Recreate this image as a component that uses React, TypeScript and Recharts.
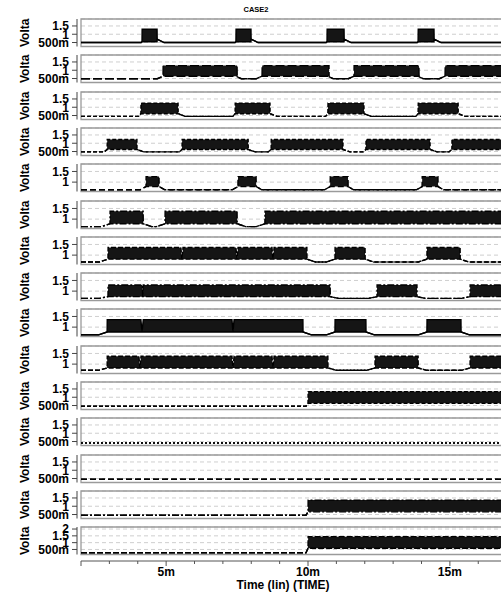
import React from "react";
import {
  ComposedChart,
  Area,
  XAxis,
  YAxis,
  CartesianGrid,
  ReferenceLine,
  ReferenceArea,
} from "recharts";

const FONT = "'Liberation Sans', Arial, Helvetica, sans-serif";

// time axis, in ms
const T_MIN = 2;
const T_MAX = 18;
const timeTicks = [2, 3, 4, 5, 6, 7, 8, 9, 10, 11, 12, 13, 14, 15, 16, 17];
const timeLabels = [5, 10, 15];

// voltage ticks per panel
const yTicksStd = [0.5, 1, 1.5];
const yTicksMid = [1, 1.5];
const yTicksWide = [0.5, 1, 1.5, 2];

const panelYTicks = [
  yTicksStd, yTicksStd, yTicksStd, yTicksStd,
  yTicksMid, yTicksMid, yTicksMid, yTicksMid, yTicksMid, yTicksMid,
  yTicksStd, yTicksStd, yTicksStd, yTicksStd,
  yTicksWide,
];
const panelYMin = [0.26, 0.26, 0.26, 0.26, 0.56, 0.56, 0.56, 0.56, 0.56, 0.56, 0.26, 0.26, 0.26, 0.26, 0.13];
const panelYMax = [1.92, 1.92, 1.92, 1.92, 1.85, 1.85, 1.85, 1.85, 1.85, 1.85, 1.92, 1.92, 1.92, 1.92, 2.15];

// bursts of switching activity, [start, end] in ms
const bursts1 = [[4.15, 4.68], [7.46, 7.99], [10.67, 11.27], [13.88, 14.44]];
const bursts2 = [[4.89, 7.5], [8.38, 10.74], [11.62, 13.91], [14.83, 18]];
const bursts3 = [[4.11, 5.42], [7.43, 8.66], [10.7, 11.97], [13.88, 15.29]];
const bursts4 = [[2.92, 3.97], [5.56, 7.89], [8.7, 11.23], [12.04, 14.3], [15.07, 18]];
const bursts5 = [[4.29, 4.75], [7.53, 8.17], [10.78, 11.41], [14.02, 14.58]];
const bursts6 = [[3.02, 4.19], [4.96, 7.5], [8.48, 18]];
const bursts7 = [[2.95, 5.52], [5.59, 7.46], [7.53, 8.73], [8.8, 9.96], [10.95, 12.01], [14.19, 15.36]];
const bursts8 = [[2.95, 4.16], [4.19, 10.78], [12.43, 13.84], [15.71, 18]];
const bursts9 = [[2.92, 4.11], [4.19, 7.32], [7.39, 9.82], [10.95, 12.04], [14.19, 15.39]];
const bursts10 = [[2.92, 4.04], [4.11, 7.32], [7.39, 8.73], [8.8, 10.7], [12.36, 13.88], [15.71, 18]];
const bursts11 = [[10.0, 18]];
const bursts12: number[][] = [];
const bursts13: number[][] = [];
const bursts14 = [[10.0, 18]];
const bursts15 = [[10.0, 18]];

const panelBursts = [
  bursts1, bursts2, bursts3, bursts4, bursts5, bursts6, bursts7, bursts8,
  bursts9, bursts10, bursts11, bursts12, bursts13, bursts14, bursts15,
];

// levels in V
const lowLevel = [0.5, 0.49, 0.45, 0.48, 0.64, 0.65, 0.68, 0.66, 0.64, 0.71, 0.46, 0.41, 0.46, 0.46, 0.26];
const burstLow = [0.55, 0.64, 0.61, 0.62, 0.79, 0.78, 0.81, 0.74, 0.77, 0.82, 0.63, 0.41, 0.46, 0.66, 0.59];
const burstHigh = [1.3, 1.28, 1.25, 1.23, 1.26, 1.37, 1.36, 1.29, 1.35, 1.37, 1.34, 0.41, 0.46, 1.37, 1.44];
const tailLevel = [0.7, 0.6, 0.61, 0.62, 0.79, 0.78, 0.81, 0.74, 0.77, 0.82, 0.63, 0.41, 0.46, 0.66, 0.59];
// edge durations in ms
const riseMs = [0.03, 0.2, 0.08, 0.1, 0.2, 0.3, 0.3, 0.3, 0.3, 0.3, 0.07, 0.07, 0.07, 0.07, 0.07];
const fallMs = [0.25, 0.15, 0.25, 0.25, 0.2, 0.3, 0.3, 0.3, 0.3, 0.3, 0.07, 0.07, 0.07, 0.07, 0.07];

const lineDash = [
  undefined, "9 3", "4 2", "4 2", "6 3", "7 2 2 2", "5 2", "7 2 2 2",
  undefined, "5 2", "4 2", "2 2", "6 3", "7 2 2 2", "6 2",
];

// layout
const PX_PER_MS = 28.375;
const AXIS_X = 77;
const PLOT_LEFT = 81;
const CHART_W = PLOT_LEFT + (T_MAX - T_MIN) * PX_PER_MS;
const T_LEFT = T_MIN - (PLOT_LEFT - AXIS_X) / PX_PER_MS;
const PANEL_TOP0 = 19;
const PANEL_PITCH = 36.3;
const PLOT_H = 27.5;
const PAD = 4;
const AXIS_CHART_TOP = 17;
const AXIS_LINE_Y = 561;

type Pt = { t: number; v: [number, number] };

function buildSeries(i: number): Pt[] {
  const lo = lowLevel[i];
  const bl = burstLow[i];
  const bh = burstHigh[i];
  const tail = tailLevel[i];
  const rise = riseMs[i];
  const fall = fallMs[i];
  const bs = panelBursts[i];
  const pts: Pt[] = [{ t: T_MIN, v: [lo, lo] }];
  bs.forEach(([a, b], k) => {
    const prev = k > 0 ? bs[k - 1][1] : null;
    const notch = prev !== null && a - prev < rise + fall;
    if (!notch) {
      pts.push({ t: a - rise, v: [lo, lo] });
      pts.push({ t: a, v: [bl, bl] });
    }
    pts.push({ t: a + 0.005, v: [bl, bh] });
    pts.push({ t: b, v: [bl, bh] });
    const next = bs[k + 1];
    if (next && next[0] - b < rise + fall) {
      pts.push({ t: (b + next[0]) / 2, v: [bl, bl] });
    } else if (b < T_MAX) {
      pts.push({ t: b + 0.005, v: [tail, tail] });
      pts.push({ t: b + fall, v: [lo, lo] });
    }
  });
  if (pts[pts.length - 1].t < T_MAX) pts.push({ t: T_MAX, v: [lo, lo] });
  return pts;
}

const fmtVolt = (v: number) => (v === 0.5 ? "500m" : String(v));

const voltLabel = () => (
  <text
    x={29}
    y={PAD + PLOT_H + 0.5}
    transform={`rotate(-90, 29, ${PAD + PLOT_H + 0.5})`}
    fill="#000"
    fontSize={12}
    fontWeight={700}
    fontFamily={FONT}
  >
    Volta
  </text>
);

function Panel({ i }: { i: number }) {
  const data = buildSeries(i);
  const yMin = panelYMin[i];
  const yMax = panelYMax[i];
  const ticks = panelYTicks[i];
  return (
    <div style={{ position: "absolute", left: 0, top: PANEL_TOP0 + i * PANEL_PITCH - PAD }}>
      <ComposedChart
        width={CHART_W}
        height={PLOT_H + 2 * PAD}
        data={data}
        margin={{ top: PAD, right: 0, bottom: PAD, left: 0 }}
      >
        <CartesianGrid
          x={PLOT_LEFT}
          width={CHART_W - PLOT_LEFT}
          vertical={false}
          stroke="#cfcfcf"
          strokeDasharray="4 3"
        />
        <XAxis type="number" dataKey="t" domain={[T_LEFT, T_MAX]} allowDataOverflow hide />
        <YAxis
          type="number"
          domain={[yMin, yMax]}
          ticks={ticks}
          interval={0}
          allowDataOverflow
          width={AXIS_X}
          tickFormatter={fmtVolt}
          tickSize={5}
          tickMargin={3}
          tick={{ fill: "#000", fontSize: 12, fontWeight: 700, fontFamily: FONT }}
          tickLine={{ stroke: "#444" }}
          axisLine={{ stroke: "#444" }}
          label={voltLabel}
        />
        <ReferenceArea
          x1={T_MIN}
          x2={T_MAX}
          y1={yMin}
          y2={yMax}
          fill="none"
          fillOpacity={0}
          stroke="#9a9a9a"
          strokeWidth={1.3}
        />
        <Area
          type="linear"
          dataKey="v"
          stroke="#000"
          strokeWidth={1.4}
          strokeDasharray={lineDash[i]}
          fill="#151515"
          fillOpacity={1}
          dot={false}
          activeDot={false}
          isAnimationActive={false}
        />
      </ComposedChart>
    </div>
  );
}

function TimeTick(props: any) {
  const { x, payload } = props;
  const v = payload.value;
  const y0 = AXIS_LINE_Y - AXIS_CHART_TOP;
  const labelled = timeLabels.includes(v);
  const major = labelled || v === T_MIN;
  return (
    <g>
      <line x1={x} x2={x} y1={y0} y2={y0 + (major ? 5 : 3)} stroke="#555" />
      {labelled && (
        <text
          x={x}
          y={y0 + 15}
          textAnchor="middle"
          fill="#000"
          fontSize={12}
          fontWeight={700}
          fontFamily={FONT}
        >
          {v}m
        </text>
      )}
    </g>
  );
}

export default function App() {
  const axisData = timeTicks.map((t) => ({ t }));
  return (
    <div
      style={{
        position: "absolute",
        left: 0,
        top: 0,
        width: 501,
        height: 592,
        overflow: "hidden",
        background: "#fff",
      }}
    >
      <div
        style={{
          position: "absolute",
          left: 226,
          width: 60,
          top: 5,
          textAlign: "center",
          fontFamily: FONT,
          fontWeight: 700,
          fontSize: 7.5,
          lineHeight: "9px",
        }}
      >
        CASE2
      </div>
      <div style={{ position: "absolute", left: 0, top: AXIS_CHART_TOP }}>
        <ComposedChart
          width={CHART_W}
          height={592 - AXIS_CHART_TOP}
          data={axisData}
          margin={{ top: 0, right: 0, bottom: 0, left: PLOT_LEFT }}
        >
          <XAxis
            type="number"
            dataKey="t"
            domain={[T_MIN, T_MAX]}
            ticks={timeTicks}
            interval={0}
            height={592 - AXIS_LINE_Y}
            tickLine={false}
            tickSize={0}
            tickMargin={0}
            tick={<TimeTick />}
            axisLine={{ stroke: "#555" }}
            label={{
              value: "Time (lin) (TIME)",
              position: "insideBottom",
              offset: 3,
              dx: -25,
              fill: "#000",
              fontSize: 12,
              fontWeight: 700,
              fontFamily: FONT,
            }}
          />
          <YAxis type="number" domain={[0, 1]} hide />
          {timeLabels.map((t) => (
            <ReferenceLine key={t} x={t} stroke="#c4c4c4" strokeDasharray="4 2" />
          ))}
        </ComposedChart>
      </div>
      {panelBursts.map((_, i) => (
        <Panel key={i} i={i} />
      ))}
    </div>
  );
}
